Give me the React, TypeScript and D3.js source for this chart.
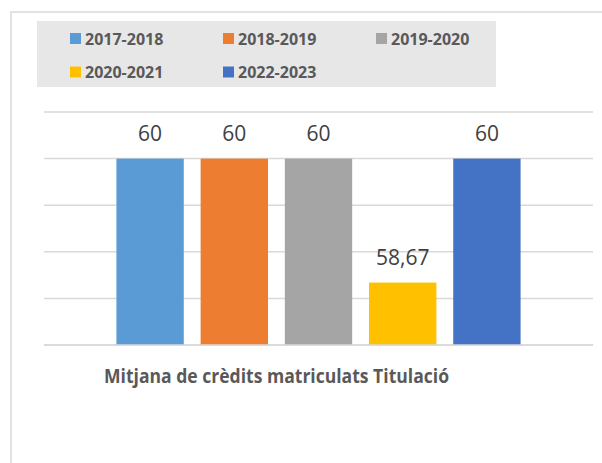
import * as d3 from "d3";

const seriesNames = ["2017-2018", "2018-2019", "2019-2020", "2020-2021", "2022-2023"];
const seriesValues = [60, 60, 60, 58.67, 60];
const seriesColors = ["#5b9bd5", "#ed7d31", "#a5a5a5", "#ffc000", "#4472c4"];
const yTicks = [58, 58.5, 59, 59.5, 60, 60.5];
const chartTitle = "Mitjana de crèdits matriculats Titulació";

export default function App() {
  const width = 602;
  const height = 463;
  const plot = { left: 44, right: 593, top: 112, bottom: 345 };

  const y = d3.scaleLinear().domain([58, 60.5]).range([plot.bottom, plot.top]);
  const x = d3
    .scaleBand<string>()
    .domain(seriesNames)
    .range([plot.left, plot.right])
    .paddingInner(0.2)
    .paddingOuter(0.86);

  const fmt = (v: number) => String(v).replace(".", ",");

  // legend layout: 3 columns, 2 rows
  const legendX = (i: number) => 70 + (i % 3) * 153;
  const legendY = (i: number) => 33 + Math.floor(i / 3) * 33.5;

  return (
    <svg
      width={width}
      height={height}
      style={{ position: "absolute", left: 0, top: 0, background: "#fff" }}
      fontFamily="'Open Sans', sans-serif"
    >
      <rect x={11} y={12} width={640} height={500} fill="#fff" stroke="#d9d9d9" strokeWidth={1.5} />

      {/* legend */}
      <rect x={37} y={21} width={459} height={66} fill="#e7e7e7" />
      {seriesNames.map((s, i) => (
        <g key={s}>
          <rect x={legendX(i)} y={legendY(i)} width={11} height={11} fill={seriesColors[i]} />
          <text
            x={legendX(i) + 15}
            y={legendY(i) + 11.5}
            fontSize={16}
            fontWeight="bold"
            fill="#595959"
          >
            {s}
          </text>
        </g>
      ))}

      {/* gridlines */}
      {yTicks.map((t) => (
        <line
          key={t}
          x1={plot.left}
          x2={plot.right}
          y1={y(t)}
          y2={y(t)}
          stroke="#d9d9d9"
          strokeWidth={1.5}
        />
      ))}

      {/* bars */}
      {seriesNames.map((s, i) => (
        <g key={s}>
          <rect
            x={x(s)}
            y={y(seriesValues[i])}
            width={x.bandwidth()}
            height={plot.bottom - y(seriesValues[i])}
            fill={seriesColors[i]}
          />
          <text
            x={(x(s) ?? 0) + x.bandwidth() / 2}
            y={y(seriesValues[i]) - 18}
            textAnchor="middle"
            fontSize={21}
            fill="#404040"
          >
            {fmt(seriesValues[i])}
          </text>
        </g>
      ))}
      <line
        x1={plot.left}
        x2={plot.right}
        y1={plot.bottom}
        y2={plot.bottom}
        stroke="#d9d9d9"
        strokeWidth={1.5}
      />

      <text
        x={276.5}
        y={383}
        textAnchor="middle"
        fontSize={19.5}
        fontWeight="bold"
        fill="#595959"
        textLength={345}
        lengthAdjust="spacingAndGlyphs"
      >
        {chartTitle}
      </text>
    </svg>
  );
}
